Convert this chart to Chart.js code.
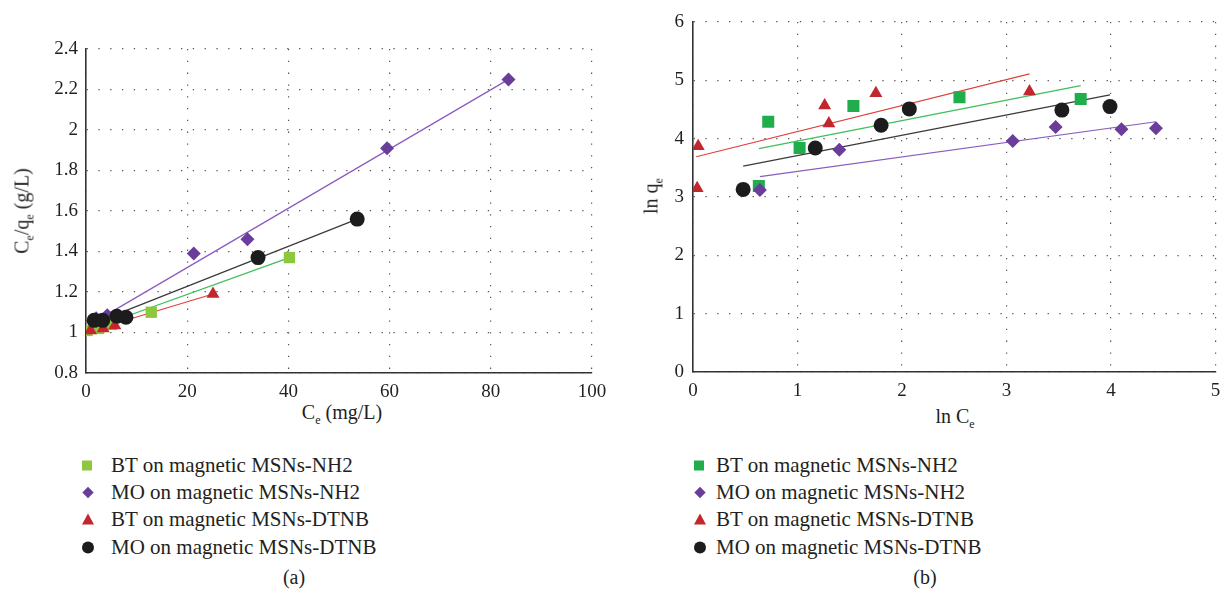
<!DOCTYPE html>
<html>
<head>
<meta charset="utf-8">
<script src="https://cdn.jsdelivr.net/npm/chart.js@4/dist/chart.umd.min.js"></script>
<style>
    body { margin: 0; background: #fff; width: 1224px; height: 599px; position: relative; overflow: hidden;
           font-family: "Liberation Serif", "DejaVu Serif", serif; color: #231f20; }
    .box { position: absolute; top: 0; width: 612px; height: 400px; }
    #boxA { left: 0; }
    #boxB { left: 612px; }
    .lbl { position: absolute; font-size: 20px; white-space: nowrap; transform: translate(-50%, -50%); }
    .lbl sub { font-size: 12px; vertical-align: -5px; line-height: 0; }
    .rot { transform: translate(-50%, -50%) rotate(-90deg); }
    .legend { position: absolute; font-size: 21px; }
    .legend .row { position: absolute; left: 0; white-space: nowrap; transform: translateY(-50%); }
    .mk { position: absolute; }
</style>
</head>
<body>
<div class="box" id="boxA"><canvas id="chartA"></canvas></div>
<div class="box" id="boxB"><canvas id="chartB"></canvas></div>

<!-- axis titles -->
<div class="lbl rot" style="left:22px; top:211px;">C<sub>e</sub>/q<sub>e</sub> (g/L)</div>
<div class="lbl" style="left:342px; top:412px;">C<sub>e</sub> (mg/L)</div>
<div class="lbl rot" style="left:651px; top:196px;">ln q<sub>e</sub></div>
<div class="lbl" style="left:955px; top:416px;">ln C<sub>e</sub></div>

<div id="legendA" class="legend" style="left:80px; top:0;"></div>
<div id="legendB" class="legend" style="left:692px; top:0;"></div>

<div class="lbl" style="left:294px; top:577px;">(a)</div>
<div class="lbl" style="left:925px; top:577px;">(b)</div>

<script>
/* ---- (a) Ce vs Ce/qe ---- */
const aX_BT_NH2 = [0.2, 2.5, 5, 12.9, 40.2];
const aY_BT_NH2 = [1.01, 1.02, 1.04, 1.10, 1.37];
const aX_MO_NH2 = [2, 4.2, 21.3, 31.9, 59.5, 83.5];
const aY_MO_NH2 = [1.07, 1.085, 1.39, 1.46, 1.91, 2.25];
const aX_BT_DTNB = [0.9, 3.4, 5.7, 25.1];
const aY_BT_DTNB = [1.01, 1.02, 1.035, 1.19];
const aX_MO_DTNB = [1.6, 3.3, 6.1, 7.9, 34, 53.6];
const aY_MO_DTNB = [1.06, 1.06, 1.08, 1.075, 1.37, 1.56];

// trend line ends
const aFitX_BT_NH2 = [0.2, 40.2],  aFitY_BT_NH2 = [1.01, 1.37];
const aFitX_MO_NH2 = [1.5, 83.5],  aFitY_MO_NH2 = [1.05, 2.25];
const aFitX_BT_DTNB = [0.5, 25.1], aFitY_BT_DTNB = [1.005, 1.19];
const aFitX_MO_DTNB = [1.5, 53.6], aFitY_MO_DTNB = [1.045, 1.56];

const aXTicks = [0, 20, 40, 60, 80, 100];
const aYTicks = [0.8, 1, 1.2, 1.4, 1.6, 1.8, 2, 2.2, 2.4];

/* ---- (b) ln Ce vs ln qe ---- */
const bX_BT_NH2 = [0.63, 0.72, 1.02, 1.535, 2.55, 3.71];
const bY_BT_NH2 = [3.19, 4.29, 3.84, 4.56, 4.71, 4.68];
const bX_MO_NH2 = [0.64, 1.40, 3.06, 3.47, 4.10, 4.43];
const bY_MO_NH2 = [3.12, 3.81, 3.96, 4.20, 4.16, 4.18];
const bX_BT_DTNB = [0.04, 0.05, 1.26, 1.30, 1.75, 3.22];
const bY_BT_DTNB = [3.15, 3.87, 4.57, 4.26, 4.78, 4.81];
const bX_MO_DTNB = [0.48, 1.17, 1.80, 2.07, 3.53, 3.99];
const bY_MO_DTNB = [3.13, 3.84, 4.23, 4.51, 4.49, 4.55];

const bFitX_BT_NH2 = [0.63, 3.71],  bFitY_BT_NH2 = [3.83, 4.91];
const bFitX_MO_NH2 = [0.64, 4.43],  bFitY_MO_NH2 = [3.35, 4.29];
const bFitX_BT_DTNB = [0.03, 3.22], bFitY_BT_DTNB = [3.69, 5.11];
const bFitX_MO_DTNB = [0.48, 3.99], bFitY_MO_DTNB = [3.53, 4.75];

const bXTicks = [0, 1, 2, 3, 4, 5];
const bYTicks = [0, 1, 2, 3, 4, 5, 6];

const seriesNames = ['BT on magnetic MSNs-NH2', 'MO on magnetic MSNs-NH2', 'BT on magnetic MSNs-DTNB', 'MO on magnetic MSNs-DTNB'];

const PURPLE = '#6a3d9a', RED = '#c1272d', BLACK = '#1c1c1c';
const GREEN_A = '#8dc63f', GREEN_B = '#1fae4b';

const pts = (xs, ys) => xs.map((x, i) => ({ x, y: ys[i] }));

function markerSet(label, xs, ys, color, style, r, order) {
    return { label, data: pts(xs, ys), pointStyle: style, pointRadius: r, pointHoverRadius: r,
             backgroundColor: color, borderColor: color, borderWidth: 0, showLine: false, order };
}
function fitSet(xs, ys, color) {
    return { label: '', data: pts(xs, ys), showLine: true, borderColor: color, borderWidth: 1.2,
             pointRadius: 0, fill: false, order: 10 };
}

function axis(min, max, ticks, tickPad, size) {
    return {
        type: 'linear', min, max,
        afterBuildTicks: s => { s.ticks = ticks.map(v => ({ value: v })); },
        afterFit: s => {
            if (s.isHorizontal()) { s.height = size; s.paddingLeft = 0; s.paddingRight = 5; }
            else s.width = size;
        },
        ticks: { padding: tickPad, color: '#231f20', font: { family: '"Liberation Serif", serif', size: 19 },
                 callback: v => String(+v.toFixed(1)) },
        grid: { color: '#555', lineWidth: 1.2, drawTicks: false },
        border: { display: true, color: '#333', width: 1.6, dash: [1.3, 10.5] }
    };
}

function makeChart(id, datasets, xs, ys, padding) {
    return new Chart(document.getElementById(id), {
        type: 'scatter',
        data: { datasets },
        options: {
            responsive: true, maintainAspectRatio: false, animation: false,
            layout: { padding },
            plugins: { legend: { display: false }, tooltip: { enabled: false } },
            scales: { x: xs, y: ys }
        }
    });
}

makeChart('chartA', [
    markerSet(seriesNames[3], aX_MO_DTNB, aY_MO_DTNB, BLACK, 'circle', 7.5, 0),
    markerSet(seriesNames[2], aX_BT_DTNB, aY_BT_DTNB, RED, 'triangle', 7.5, 1),
    markerSet(seriesNames[1], aX_MO_NH2, aY_MO_NH2, PURPLE, 'rectRot', 7, 2),
    markerSet(seriesNames[0], aX_BT_NH2, aY_BT_NH2, GREEN_A, 'rect', 8, 3),
    fitSet(aFitX_BT_NH2, aFitY_BT_NH2, '#3dbf5a'),
    fitSet(aFitX_MO_NH2, aFitY_MO_NH2, '#8a5bc0'),
    fitSet(aFitX_BT_DTNB, aFitY_BT_DTNB, '#e0403a'),
    fitSet(aFitX_MO_DTNB, aFitY_MO_DTNB, '#3a3a3a')
], axis(0, 100, aXTicks, 8, 27), axis(0.8, 2.4, aYTicks, 8, 86),
   { left: 0, right: 20, top: 49, bottom: 0 });

makeChart('chartB', [
    markerSet(seriesNames[3], bX_MO_DTNB, bY_MO_DTNB, BLACK, 'circle', 7.5, 0),
    markerSet(seriesNames[2], bX_BT_DTNB, bY_BT_DTNB, RED, 'triangle', 7.5, 1),
    markerSet(seriesNames[1], bX_MO_NH2, bY_MO_NH2, PURPLE, 'rectRot', 7, 2),
    markerSet(seriesNames[0], bX_BT_NH2, bY_BT_NH2, GREEN_B, 'rect', 8.5, 3),
    fitSet(bFitX_BT_NH2, bFitY_BT_NH2, '#3dbf5a'),
    fitSet(bFitX_MO_NH2, bFitY_MO_NH2, '#8a5bc0'),
    fitSet(bFitX_BT_DTNB, bFitY_BT_DTNB, '#e0403a'),
    fitSet(bFitX_MO_DTNB, bFitY_MO_DTNB, '#3a3a3a')
], axis(0, 5, bXTicks, 8, 28), axis(0, 6, bYTicks, 9, 81),
   { left: 0, right: 6, top: 22, bottom: 0 });

// legends under each panel
function buildLegend(id, green) {
    const shapes = [
        `<div class="mk" style="left:-6px;top:-5px;width:10px;height:10px;background:${green}"></div>`,
        `<div class="mk" style="left:-4px;top:-4px;width:8px;height:8px;background:${PURPLE};transform:rotate(45deg)"></div>`,
        `<div class="mk" style="left:-6px;top:-6px;width:0;height:0;border-left:6px solid transparent;border-right:6px solid transparent;border-bottom:11px solid ${RED}"></div>`,
        `<div class="mk" style="left:-6px;top:-6px;width:12px;height:12px;border-radius:50%;background:${BLACK}"></div>`
    ];
    const rowsY = [465, 492, 519, 547];
    document.getElementById(id).innerHTML = seriesNames.map((name, i) => `
        <div class="row" style="top:${rowsY[i]}px">
            <span style="position:absolute;left:8px;top:50%">${shapes[i]}</span>
            <span style="margin-left:${id === 'legendA' ? 31 : 24}px">${name}</span>
        </div>`).join('');
}
buildLegend('legendA', GREEN_A);
buildLegend('legendB', GREEN_B);
</script>
</body>
</html>
